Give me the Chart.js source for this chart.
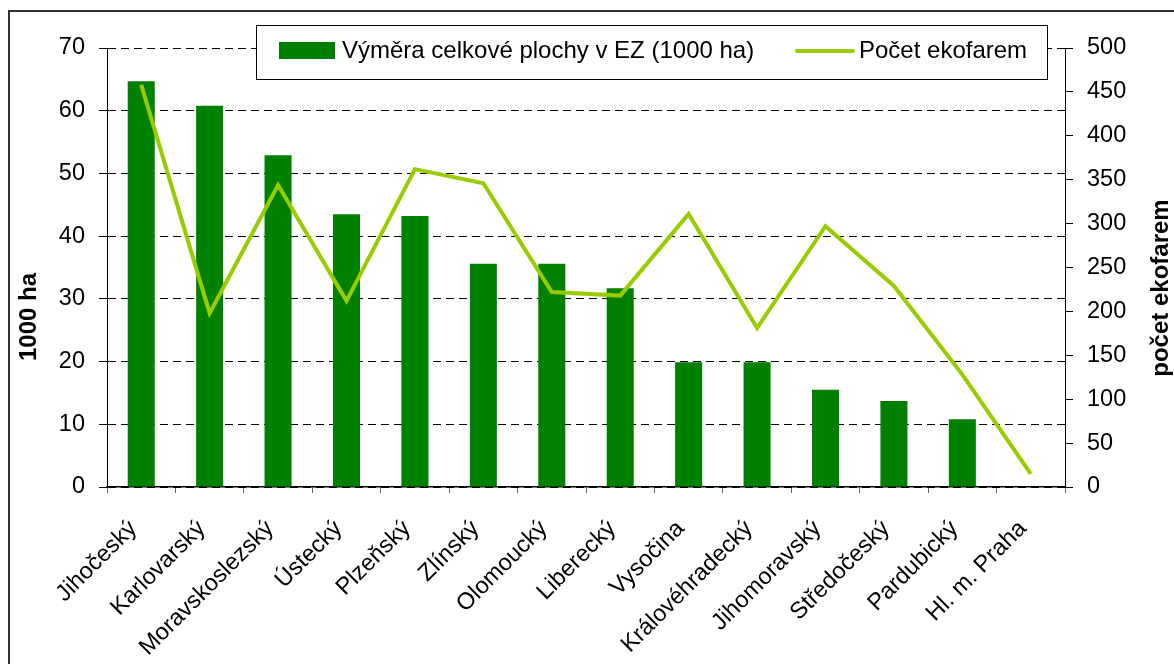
<!DOCTYPE html>
<html>
<head>
<meta charset="utf-8">
<script src="https://cdn.jsdelivr.net/npm/chart.js@4.4.1/dist/chart.umd.min.js"></script>
<style>
    html, body { margin: 0; padding: 0; background: #fff; }
    #wrap { position: relative; width: 1174px; height: 664px; }
    #frame {
        position: absolute; left: 8px; top: 10px; width: 1200px; height: 700px;
        border: 2px solid #333; box-sizing: border-box; pointer-events: none;
    }
</style>
</head>
<body>
<div id="wrap">
    <canvas id="ecoChart"></canvas>
    <div id="frame"></div>
</div>
<script>
// Data
const regions = ['Jihočeský', 'Karlovarský', 'Moravskoslezský', 'Ústecký', 'Plzeňský', 'Zlínský',
    'Olomoucký', 'Liberecký', 'Vysočina', 'Královéhradecký', 'Jihomoravský', 'Středočeský',
    'Pardubický', 'Hl. m. Praha'];
const areaValues = [64.7, 60.8, 52.9, 43.5, 43.2, 35.6, 35.6, 31.7, 19.9, 19.9, 15.5, 13.7, 10.8, 0];
const farmCounts = [458, 198, 344, 212, 362, 346, 222, 218, 311, 181, 297, 229, 128, 15];
const areaTicks = { min: 0, max: 70, step: 10 };
const farmTicks = { min: 0, max: 500, step: 50 };

const areaLabel = 'Výměra celkové plochy v EZ (1000 ha)';
const farmLabel = 'Počet ekofarem';

const FONT = "'Liberation Sans', Arial, sans-serif";

// Legend box and rotated axis titles, drawn on top
const extras = {
    id: 'extras',
    afterDraw(chart) {
        const ctx = chart.ctx;
        ctx.save();

        // legend
        ctx.fillStyle = '#fff';
        ctx.fillRect(256, 25, 791, 54);
        ctx.strokeStyle = '#000';
        ctx.lineWidth = 1;
        ctx.strokeRect(256.5, 25.5, 791, 54);

        ctx.fillStyle = '#008000';
        ctx.fillRect(279, 42, 56, 17);
        ctx.strokeStyle = '#99cc00';
        ctx.lineWidth = 4;
        ctx.lineCap = 'round';
        ctx.beginPath();
        ctx.moveTo(797, 51);
        ctx.lineTo(853, 51);
        ctx.stroke();

        ctx.fillStyle = '#000';
        ctx.font = '24px ' + FONT;
        ctx.textBaseline = 'middle';
        ctx.textAlign = 'left';
        ctx.fillText(chart.data.datasets[0].label, 342, 51);
        ctx.fillText(chart.data.datasets[1].label, 859, 51);

        // axis titles
        ctx.font = 'bold 24px ' + FONT;
        ctx.textAlign = 'center';
        ctx.translate(29, 317);
        ctx.rotate(-Math.PI / 2);
        ctx.fillText('1000 ha', 0, 0);
        ctx.restore();

        ctx.save();
        ctx.fillStyle = '#000';
        ctx.font = 'bold 24px ' + FONT;
        ctx.textAlign = 'center';
        ctx.textBaseline = 'middle';
        ctx.translate(1161, 288);
        ctx.rotate(-Math.PI / 2);
        ctx.fillText('počet ekofarem', 0, 0);
        ctx.restore();
    }
};

document.addEventListener('DOMContentLoaded', () => {
    Chart.defaults.font.family = FONT;
    Chart.defaults.color = '#000';

    const ctx = document.getElementById('ecoChart').getContext('2d');

    new Chart(ctx, {
        data: {
            labels: regions,
            datasets: [
                {
                    type: 'bar',
                    label: areaLabel,
                    data: areaValues,
                    backgroundColor: '#008000',
                    borderWidth: 0,
                    barPercentage: 0.395,
                    categoryPercentage: 1.0,
                    yAxisID: 'y',
                    order: 2
                },
                {
                    type: 'line',
                    label: farmLabel,
                    data: farmCounts,
                    borderColor: '#99cc00',
                    borderWidth: 4,
                    pointRadius: 0,
                    tension: 0,
                    fill: false,
                    yAxisID: 'y1',
                    order: 1
                }
            ]
        },
        options: {
            responsive: true,
            maintainAspectRatio: false,
            animation: false,
            layout: { padding: { top: 48, left: 0, right: 0, bottom: 0 } },
            plugins: {
                legend: { display: false },
                tooltip: { enabled: false }
            },
            scales: {
                x: {
                    offset: true,
                    grid: {
                        offset: true,
                        drawOnChartArea: false,
                        tickLength: 6,
                        color: '#666'
                    },
                    border: { color: '#000', width: 1.5 },
                    ticks: {
                        autoSkip: false,
                        minRotation: 45,
                        maxRotation: 45,
                        padding: 22,
                        labelOffset: -8,
                        font: { size: 23.5 }
                    },
                    afterFit: scale => { scale.height = 177; }
                },
                y: {
                    position: 'left',
                    min: areaTicks.min,
                    max: areaTicks.max,
                    ticks: { stepSize: areaTicks.step, padding: 14, font: { size: 23.5 } },
                    grid: {
                        color: '#000',
                        lineWidth: 1,
                        tickLength: 8,
                        tickColor: '#000',
                        tickBorderDash: []
                    },
                    border: { color: '#000', width: 1, dash: [8, 5] },
                    afterFit: scale => { scale.width = 107; }
                },
                y1: {
                    position: 'right',
                    min: farmTicks.min,
                    max: farmTicks.max,
                    ticks: { stepSize: farmTicks.step, padding: 14, font: { size: 23.5 } },
                    grid: {
                        drawOnChartArea: false,
                        tickLength: 8,
                        tickColor: '#000'
                    },
                    border: { color: '#000', width: 1 },
                    afterFit: scale => { scale.width = 109; }
                }
            }
        },
        plugins: [extras]
    });
});
</script>
</body>
</html>
